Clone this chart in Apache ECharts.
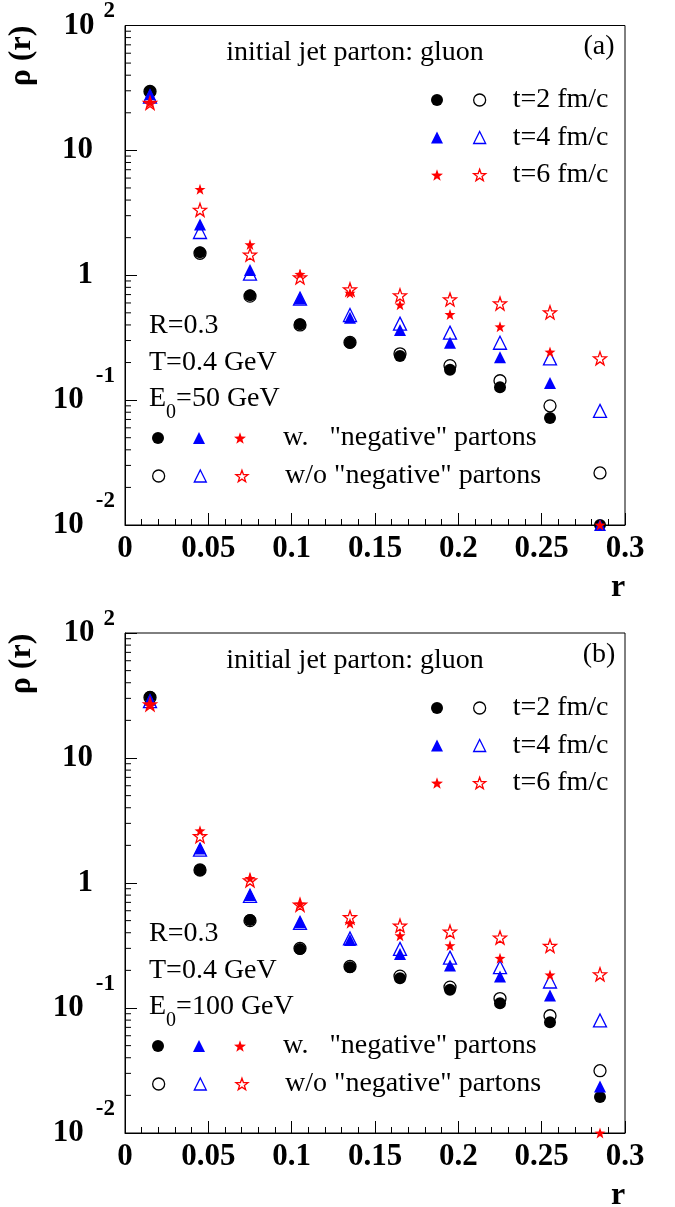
<!DOCTYPE html>
<html><head><meta charset="utf-8">
<script src="https://cdn.jsdelivr.net/npm/echarts@6/dist/echarts.min.js"></script>
<style>html,body{margin:0;padding:0;background:#fff}#c{width:675px;height:1207px}</style>
</head><body><div id="c"></div>
<script>
// ---- data ----
const r = [0.015, 0.045, 0.075, 0.105, 0.135, 0.165, 0.195, 0.225, 0.255, 0.285];
const xTickLabels = ['0', '0.05', '0.1', '0.15', '0.2', '0.25', '0.3'];
const yTickExponents = [-2, -1, 0, 1, 2];

// panel (a): E0 = 50 GeV
const aCircleW  = [29.6, 1.53, 0.69, 0.406, 0.288, 0.226, 0.175, 0.127, 0.0718, 0.01];
const aCircleWo = [29.6, 1.50, 0.68, 0.40, 0.29, 0.235, 0.189, 0.143, 0.090, 0.0261];
const aTriW     = [28.2, 2.55, 1.10, 0.65, 0.457, 0.364, 0.288, 0.22, 0.137, 0.01];
const aTriWo    = [27.0, 2.22, 1.03, 0.65, 0.48, 0.41, 0.347, 0.288, 0.216, 0.082];
const aStarW    = [24.2, 4.88, 1.76, 1.02, 0.72, 0.58, 0.486, 0.387, 0.243, 0.01];
const aStarWo   = [24.0, 3.34, 1.46, 0.96, 0.77, 0.69, 0.64, 0.594, 0.504, 0.216];

// panel (b): E0 = 100 GeV
const bCircleW  = [30.8, 1.27, 0.506, 0.297, 0.212, 0.173, 0.14, 0.109, 0.077, 0.0194];
const bCircleWo = [30.5, 1.27, 0.50, 0.30, 0.215, 0.18, 0.147, 0.119, 0.0867, 0.0315];
const bTriW     = [29.3, 1.89, 0.80, 0.485, 0.35, 0.271, 0.219, 0.179, 0.126, 0.0236];
const bTriWo    = [28.5, 1.85, 0.79, 0.48, 0.36, 0.297, 0.253, 0.212, 0.163, 0.0795];
const bStarW    = [26.9, 2.62, 1.09, 0.68, 0.477, 0.379, 0.316, 0.25, 0.184, 0.01];
const bStarWo   = [26.9, 2.37, 1.05, 0.67, 0.532, 0.456, 0.408, 0.366, 0.314, 0.186];

const timeLabels = ['t=2 fm/c', 't=4 fm/c', 't=6 fm/c'];
const wLabel  = 'w.   "negative" partons';
const woLabel = 'w/o "negative" partons';

// ---- styling ----
const FONT = '"Liberation Serif", "Times New Roman", serif';
const STAR = 'path://M50,0L61.76,33.82L97.55,34.55L69.02,56.18L79.39,90.45L50,70L20.61,90.45L30.98,56.18L2.45,34.55L38.24,33.82Z';
const kinds = [
  {key: 'c', symbol: 'circle',   color: '#000000', fs: 12, os: 12},
  {key: 't', symbol: 'triangle', color: '#0000ff', fs: 12, os: 13},
  {key: 's', symbol: STAR,       color: '#ff0000', fs: 11, os: 13}
];
const fillStyle = c => ({color: c, opacity: 1});
const openStyle = c => ({color: 'rgba(0,0,0,0)', borderColor: c, borderWidth: 1.3, opacity: 1});

const panels = [
  {id: 'a', dy: 0,   top: 25,  E0: '50 GeV',  tag: '(a)', w: [aCircleW, aTriW, aStarW], wo: [aCircleWo, aTriWo, aStarWo]},
  {id: 'b', dy: 608, top: 633, E0: '100 GeV', tag: '(b)', w: [bCircleW, bTriW, bStarW], wo: [bCircleWo, bTriWo, bStarWo]}
];

const grids = [], xAxes = [], yAxes = [], series = [], legends = [], graphics = [];

const minorVals = [];
for (let k = -2; k < 2; k++) for (let m = 2; m <= 9; m++) minorVals.push([0, m * Math.pow(10, k)]);

panels.forEach((p, gi) => {
  grids.push({left: 125, top: p.top, width: 500, height: 500, show: true, borderColor: '#000', borderWidth: 1, backgroundColor: 'transparent'});
  xAxes.push({
    type: 'value', gridIndex: gi, min: 0, max: 0.3, interval: 0.05,
    axisLine: {show: true, lineStyle: {color: '#000', width: 1}},
    axisTick: {show: true, inside: true, length: 12, lineStyle: {color: '#000'}},
    minorTick: {show: true, splitNumber: 5, length: 6, lineStyle: {color: '#000'}},
    splitLine: {show: false}, minorSplitLine: {show: false},
    axisLabel: {
      margin: 8, showMinLabel: true, showMaxLabel: true,
      fontFamily: FONT, fontWeight: 'bold', fontSize: 31, lineHeight: 31, color: '#000',
      formatter: v => xTickLabels[Math.round(v / 0.05)]
    }
  });
  yAxes.push({
    type: 'log', logBase: 10, gridIndex: gi, min: 0.01, max: 100,
    axisLine: {show: true, lineStyle: {color: '#000', width: 1}},
    axisTick: {show: true, inside: true, length: 12, lineStyle: {color: '#000'}},
    splitLine: {show: false},
    axisLabel: {
      margin: 10, showMinLabel: true, showMaxLabel: true, color: '#000',
      formatter: v => {
        const e = Math.round(Math.log10(v));
        if (yTickExponents.indexOf(e) < 0) return '';
        if (e === 0) return '{p|1}';
        if (e === 1) return '{p|10}';
        if (e > 1) return '{b|10}{u|' + e + '}';
        return '{b|10}{s|' + e + '}';
      },
      rich: {
        p: {fontFamily: FONT, fontWeight: 'bold', fontSize: 31, color: '#000', padding: [0, 22, 0, 0]},
        b: {fontFamily: FONT, fontWeight: 'bold', fontSize: 31, color: '#000'},
        u: {fontFamily: FONT, fontWeight: 'bold', fontSize: 23, color: '#000', padding: [0, 0, 28, 9]},
        s: {fontFamily: FONT, fontWeight: 'bold', fontSize: 23, color: '#000', padding: [0, 0, 48, 12]}
      }
    }
  });

  // minor log ticks (2..9 per decade), placed through the axis scale
  series.push({
    type: 'custom', xAxisIndex: gi, yAxisIndex: gi, silent: true, clip: false,
    data: minorVals,
    renderItem: (params, api) => {
      const pt = api.coord([0, api.value(1)]);
      return {type: 'line', shape: {x1: pt[0], y1: pt[1], x2: pt[0] + 6, y2: pt[1]}, style: {stroke: '#000', lineWidth: 1}};
    }
  });

  kinds.forEach((k, ki) => {
    const nw = p.id + '_' + k.key + '_w', no = p.id + '_' + k.key + '_wo';
    series.push({
      type: 'scatter', name: no, xAxisIndex: gi, yAxisIndex: gi, clip: false,
      symbol: k.symbol, symbolSize: k.os, itemStyle: openStyle(k.color),
      data: r.map((x, i) => [x, p.wo[ki][i]])
    });
    series.push({
      type: 'scatter', name: nw, xAxisIndex: gi, yAxisIndex: gi, clip: false,
      symbol: k.symbol, symbolSize: k.fs, itemStyle: fillStyle(k.color),
      data: r.map((x, i) => [x, p.w[ki][i]])
    });
    // top-right legend row for this time
    legends.push({
      left: 431, top: 85 + p.dy + 37.5 * ki, orient: 'horizontal', padding: 0,
      itemWidth: 12, itemHeight: 12, itemGap: 25, selectedMode: false,
      textStyle: {fontFamily: FONT, fontSize: 28, color: '#000', lineHeight: 30},
      formatter: name => name === no ? timeLabels[ki] : '',
      data: [
        {name: nw, icon: k.symbol, itemStyle: fillStyle(k.color)},
        {name: no, icon: k.symbol, itemStyle: openStyle(k.color), textStyle: {padding: [0, 0, 0, 22]}}
      ]
    });
  });

  // bottom-left legend rows (w. / w/o negative partons)
  [['w', wLabel, fillStyle, 423], ['wo', woLabel, openStyle, 461]].forEach(([suf, txt, sty, top]) => {
    legends.push({
      left: 152, top: top + p.dy, orient: 'horizontal', padding: 0,
      itemWidth: 12, itemHeight: 12, itemGap: 24, selectedMode: false,
      textStyle: {fontFamily: FONT, fontSize: 28, color: '#000', lineHeight: 30},
      formatter: name => name === p.id + '_s_' + suf ? txt : '',
      data: kinds.map((k, ki) => {
        const d = {name: p.id + '_' + k.key + '_' + suf, icon: k.symbol, itemStyle: sty(k.color)};
        if (ki === 2) d.textStyle = {padding: [0, 0, 0, 32]};
        return d;
      })
    });
  });

  const T = (text, x, y, extra) => Object.assign({type: 'text', x: x, y: y, silent: true,
    style: Object.assign({text: text, fontFamily: FONT, fontSize: 28, fill: '#000', textVerticalAlign: 'middle'}, extra || {})});
  graphics.push(T('initial jet parton: gluon', 355, 53 + p.dy, {textAlign: 'center'}));
  graphics.push(T(p.tag, 599, 47 + p.dy, {textAlign: 'center'}));
  graphics.push(T('R=0.3', 149, 326 + p.dy, {textAlign: 'left'}));
  graphics.push(T('T=0.4 GeV', 149, 363 + p.dy, {textAlign: 'left'}));
  graphics.push(T('{m|E}{z|0}{m|=' + p.E0 + '}', 149, 400 + p.dy, {textAlign: 'left',
    rich: {m: {fontFamily: FONT, fontSize: 28, fill: '#000', lineHeight: 30, verticalAlign: 'top'},
           z: {fontFamily: FONT, fontSize: 20, fill: '#000', lineHeight: 20, verticalAlign: 'top', padding: [18, 0, 0, 0]}}}));
  // axis titles
  const yt = T('ρ (r)', 22, 56 + p.dy, {textAlign: 'center', fontWeight: 'bold', fontSize: 32});
  yt.rotation = Math.PI / 2;
  graphics.push(yt);
  graphics.push(T('r', 618, 588 + p.dy, {textAlign: 'center', fontWeight: 'bold', fontSize: 32}));
});

const chart = echarts.init(document.getElementById('c'), null, {renderer: 'canvas'});
chart.setOption({
  animation: false,
  backgroundColor: '#fff',
  grid: grids, xAxis: xAxes, yAxis: yAxes,
  legend: legends, series: series, graphic: graphics
});
</script></body></html>
